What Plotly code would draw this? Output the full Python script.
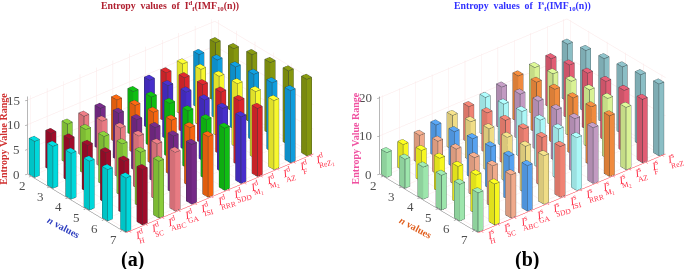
import plotly.graph_objects as go

n_values = [2, 3, 4, 5, 6, 7]

methods_a = ["H", "SC", "ABC", "GA", "ISI", "RRR", "SDD", "M<sub>1</sub>", "M<sub>2</sub>", "AZ", "F", "ReZ<sub>1</sub>"]
methods_b = ["H", "SC", "ABC", "GA", "SDD", "ISI", "RRR", "M<sub>1</sub>", "M<sub>2</sub>", "AZ", "F", "ReZ"]

colors_a = ["#00dfe2", "#a50d2c", "#8fd43c", "#f07f88", "#7a2c8c", "#ff6a10",
            "#10c414", "#4a30d2", "#e2282e", "#ffff30", "#10a2e4", "#8a9c10"]
colors_b = ["#a2eeb2", "#ffff20", "#f8b090", "#5aa8f8", "#f8e48c", "#f88878",
            "#b2ffff", "#c8a0c8", "#f89040", "#e0fa9a", "#e86078", "#90c4cc"]

values_a = [
    [7.3, 8.5, 9.3, 9.9, 10.4, 10.9],
    [7.5, 8.6, 9.5, 10.2, 10.7, 11.2],
    [8.0, 9.1, 9.9, 10.6, 11.1, 11.5],
    [8.2, 9.4, 10.2, 10.8, 11.4, 11.9],
    [8.4, 9.6, 10.5, 11.1, 11.6, 12.1],
    [8.7, 9.8, 10.6, 11.2, 11.9, 12.3],
    [9.0, 10.1, 11.0, 11.7, 12.1, 12.6],
    [9.9, 11.0, 11.9, 12.5, 13.0, 13.5],
    [10.0, 11.2, 12.0, 12.7, 13.2, 13.8],
    [10.4, 11.5, 12.3, 13.0, 13.6, 14.0],
    [10.9, 12.0, 12.8, 13.5, 14.0, 14.6],
    [11.9, 12.9, 13.9, 14.5, 15.0, 15.5],
]
values_b = [
    [6.5, 7.6, 8.4, 9.1, 9.6, 10.2],
    [6.8, 8.1, 8.9, 9.6, 10.2, 10.7],
    [7.4, 8.7, 9.5, 10.1, 10.8, 11.3],
    [8.3, 9.4, 10.4, 11.1, 11.5, 11.9],
    [9.0, 10.2, 11.2, 11.8, 12.3, 12.7],
    [9.5, 10.7, 11.6, 12.2, 12.8, 13.3],
    [10.1, 11.2, 12.1, 12.7, 13.2, 13.8],
    [11.0, 12.0, 13.0, 13.6, 14.1, 14.6],
    [12.1, 13.3, 14.3, 14.9, 15.4, 15.9],
    [12.5, 13.7, 14.6, 15.2, 15.8, 16.3],
    [13.0, 14.2, 14.9, 15.6, 16.1, 16.6],
    [15.0, 16.2, 16.9, 17.6, 18.4, 18.8],
]

BAR_W = 0.30
SERIF = "Liberation Serif"
R = 2.95
SCALE_PX = 133.0


def shade(hex_color, k):
    r, g, b = (int(hex_color[i:i + 2], 16) for i in (1, 3, 5))
    return f"rgb({int(r * k)},{int(g * k)},{int(b * k)})"


def bars(values, colors, scene):
    xs, ys, zs, ii, jj, kk, fc = [], [], [], [], [], [], []
    ex, ey, ez = [], [], []
    d = BAR_W / 2
    for c, col in enumerate(values):
        for r, h in enumerate(col):
            x0, x1 = c + 1 - d, c + 1 + d
            n = n_values[r]
            y0, y1 = n - d, n + d
            b = len(xs)
            for z in (0, h):
                xs += [x0, x1, x1, x0]
                ys += [y0, y0, y1, y1]
                zs += [z, z, z, z]
            quads = [((4, 5, 6, 7), 1.0),
                     ((2, 3, 7, 6), 0.97),
                     ((0, 3, 7, 4), 0.88),
                     ((1, 2, 6, 5), 0.88),
                     ((0, 1, 5, 4), 0.8)]
            for (p, q, s, t), k in quads:
                for tri in ((p, q, s), (p, s, t)):
                    ii.append(b + tri[0]); jj.append(b + tri[1]); kk.append(b + tri[2])
                    fc.append(shade(colors[c], k))
            for path in ([4, 5, 6, 7, 4], [3, 7], [2, 6], [0, 4], [1, 5], [3, 2], [0, 3]):
                for v in path:
                    ex.append(xs[b + v]); ey.append(ys[b + v]); ez.append(zs[b + v])
                ex.append(None); ey.append(None); ez.append(None)
    return [
        go.Mesh3d(x=xs, y=ys, z=zs, i=ii, j=jj, k=kk, facecolor=fc, flatshading=True,
                  lighting=dict(ambient=1, diffuse=0, specular=0, fresnel=0),
                  hoverinfo="skip", scene=scene),
        go.Scatter3d(x=ex, y=ey, z=ez, mode="lines", line=dict(color="#303a3c", width=1),
                     hoverinfo="skip", showlegend=False, scene=scene),
    ]


fig = go.Figure()
for t in bars(values_a, colors_a, "scene"):
    fig.add_trace(t)
for t in bars(values_b, colors_b, "scene2"):
    fig.add_trace(t)


def scene_layout(domain_x, zmax, zticks, methods, sup, nv_color, zt_color, move_left):
    ann = []
    for i, m in enumerate(methods):
        ann.append(dict(x=i + 1, y=7.2, z=0, showarrow=False, xshift=10, yshift=-3, textangle=-14,
                        text=f"<i>I</i><sup>{sup}</sup>", font=dict(family=SERIF, size=11, color="#ff3048")))
        ann.append(dict(x=i + 1, y=7.2, z=0, showarrow=False, xshift=6, yshift=-9, textangle=-14,
                        xanchor="left", text=m, font=dict(family=SERIF, size=7.5, color="#ff3048")))
    for n in n_values:
        ann.append(dict(x=0.8, y=n, z=0, showarrow=False, xshift=-9, yshift=-9, text=str(n),
                        font=dict(family=SERIF, size=13, color="#505050")))
    for t in zticks:
        ann.append(dict(x=0.8, y=1.8, z=t, showarrow=False, xshift=-5, xanchor="right", text=str(t),
                        font=dict(family=SERIF, size=13, color="#505050")))
    ann.append(dict(x=0.8, y=5.0, z=0, showarrow=False, xshift=-22, yshift=-19, textangle=28,
                    text="<b><i>n</i> values</b>", font=dict(family=SERIF, size=10, color=nv_color)))
    ann.append(dict(x=0.8, y=1.8, z=zmax * 0.46, showarrow=False, xshift=-24, yshift=0, textangle=-90,
                    text="<b>Entropy Value Range</b>", font=dict(family=SERIF, size=10, color=zt_color)))
    base = dict(showbackground=False, showspikes=False, gridcolor="#fbe6e6", gridwidth=1,
                zeroline=False, showline=True, ticks="outside", ticklen=3, title=dict(text=""),
                showticklabels=False)
    cx = 0.02 + move_left * 0.766 / SCALE_PX
    cy = -move_left * 0.643 / SCALE_PX
    cz = -0.0865
    return dict(
        domain=dict(x=domain_x, y=[0.0, 1.0]),
        aspectmode="manual", aspectratio=dict(x=1.82, y=1.14, z=0.665),
        camera=dict(projection=dict(type="orthographic"),
                    eye=dict(x=-0.557 * R + cx, y=-0.663 * R + cy, z=0.5 * R + cz),
                    up=dict(x=0, y=0, z=1), center=dict(x=cx, y=cy, z=cz)),
        xaxis=dict(base, range=[0.8, 12.2], tickvals=list(range(1, 13)),
                   linecolor="#ff3040", tickcolor="#ff3040"),
        yaxis=dict(base, range=[7.2, 1.8], tickvals=n_values, linecolor="#707070", tickcolor="#707070"),
        zaxis=dict(base, range=[0, zmax], tickvals=zticks, linecolor="#707070", tickcolor="#707070"),
        annotations=ann,
    )


fig.update_layout(
    width=685, height=269, margin=dict(l=0, r=0, t=0, b=0),
    paper_bgcolor="white", showlegend=False,
    scene=scene_layout([0.0, 0.5], 15.7, [0, 5, 10, 15], methods_a, "d", "#3040c0", "#d03030", -1),
    scene2=scene_layout([0.5, 1.0], 20.3, [0, 10, 20], methods_b, "s", "#e06020", "#f050a0", -10),
    annotations=[
        dict(x=170 / 685, y=1 - 6 / 269, xref="paper", yref="paper", xanchor="center", yanchor="middle", showarrow=False,
             text="<b>Entropy  values  of  I<sup>d</sup><sub>f</sub>(IMF<sub>10</sub>(n))</b>",
             font=dict(family=SERIF, size=9.8, color="#b02030")),
        dict(x=522 / 685, y=1 - 6 / 269, xref="paper", yref="paper", xanchor="center", yanchor="middle", showarrow=False,
             text="<b>Entropy  values  of  I<sup>s</sup><sub>f</sub>(IMF<sub>10</sub>(n))</b>",
             font=dict(family=SERIF, size=9.8, color="#3030ff")),
        dict(x=132 / 685, y=1 - 259 / 269, xref="paper", yref="paper", xanchor="center", yanchor="middle", showarrow=False,
             text="<b>(a)</b>", font=dict(family=SERIF, size=20, color="black")),
        dict(x=527 / 685, y=1 - 259 / 269, xref="paper", yref="paper", xanchor="center", yanchor="middle", showarrow=False,
             text="<b>(b)</b>", font=dict(family=SERIF, size=20, color="black")),
    ],
)

fig.write_html("out.html", config=dict(displayModeBar=False),
               post_script="document.body.style.margin='0';window.dispatchEvent(new Event('resize'));")
